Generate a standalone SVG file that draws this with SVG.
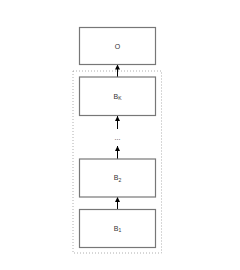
<svg xmlns="http://www.w3.org/2000/svg" width="240" height="270" viewBox="0 0 240 270">
<style>
.box{fill:#fff;stroke:#777;stroke-width:1.2}
.lbl{font-family:"Liberation Sans",Arial,sans-serif;font-size:7px;fill:#333;text-anchor:middle}
.sub{font-size:5px}
.con{stroke:#000;stroke-width:1;fill:none;marker-end:url(#ah)}
</style>
<defs>
<marker id="ah" markerWidth="6" markerHeight="6" refX="5" refY="3" orient="auto" markerUnits="userSpaceOnUse">
<path d="M0,0.5 L5,3 L0,5.5 z" fill="#000"/>
</marker>
</defs>
<rect x="73" y="71" width="88.5" height="182" fill="none" stroke="#999" stroke-width="0.8" stroke-dasharray="1,2"/>
<g id="connectors">
<line class="con" x1="117.5" y1="77" x2="117.5" y2="64.5"/>
<line class="con" x1="117.5" y1="129" x2="117.5" y2="116"/>
<line class="con" x1="117.5" y1="159" x2="117.5" y2="146"/>
<line class="con" x1="117.5" y1="209.5" x2="117.5" y2="197"/>
</g>
<g id="O"><rect class="box" x="79.5" y="27.5" width="76" height="37"/><text class="lbl" x="117.5" y="48.5">O</text></g>
<g id="BK"><rect class="box" x="79.5" y="77" width="76" height="38.5"/><text class="lbl" x="117.5" y="98.5">B<tspan class="sub" dy="1.5">K</tspan></text></g>
<g id="dots"><text class="lbl" x="117.5" y="140">...</text></g>
<g id="B2"><rect class="box" x="79.5" y="159" width="76" height="38"/><text class="lbl" x="117.5" y="180">B<tspan class="sub" dy="1.5">2</tspan></text></g>
<g id="B1"><rect class="box" x="79.5" y="209.5" width="76" height="38"/><text class="lbl" x="117.5" y="230.5">B<tspan class="sub" dy="1.5">1</tspan></text></g>
</svg>
